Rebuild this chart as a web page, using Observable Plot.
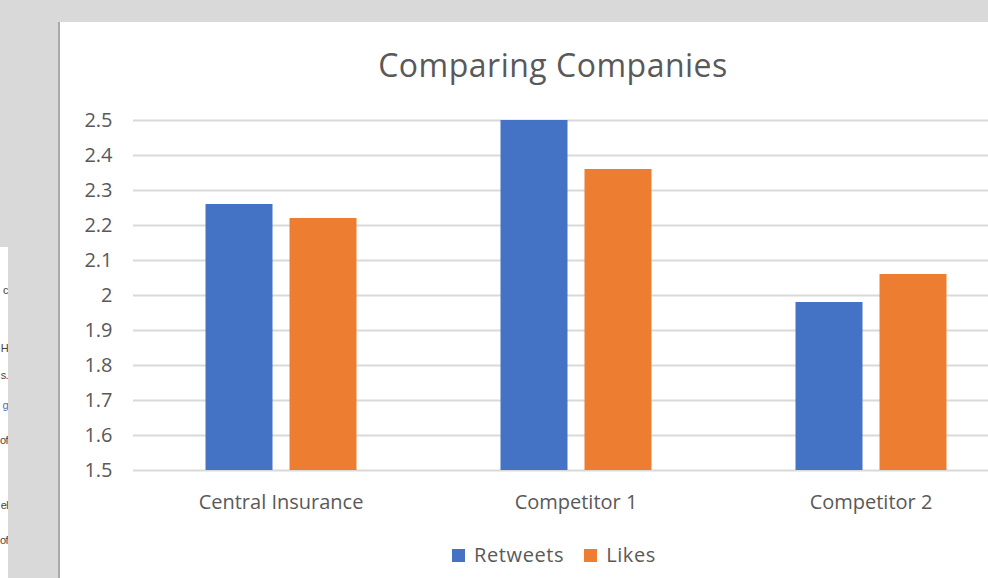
<!DOCTYPE html>
<html>
<head>
<meta charset="utf-8">
<script src="https://cdn.jsdelivr.net/npm/d3@7"></script>
<script src="https://cdn.jsdelivr.net/npm/@observablehq/plot@0.6"></script>
<style>
  html, body { margin:0; padding:0; width:988px; height:578px; overflow:hidden; background:#d9d9d9; }
  body { position:relative; font-family: "Open Sans", sans-serif; }
  #sheet { position:absolute; left:0; top:247px; width:8px; height:331px; background:#fff; overflow:hidden; }
  #sheet div { position:absolute; right:0px; font-family:"Liberation Sans", sans-serif; font-size:11px; letter-spacing:-0.6px; color:#444; white-space:nowrap; line-height:1; }
  #panel { position:absolute; left:58px; top:22px; width:940px; height:560px; background:#fff; border-left:2px solid #a9a9a9; }
  #title { position:absolute; left:253px; width:600px; top:48.5px; text-align:center; font-size:32px; letter-spacing:0.5px; line-height:1; color:#595959; }
  #chart { position:absolute; left:0; top:100px; width:1030px; }
  #chart svg { max-width:none; }
  #legend { position:absolute; left:0; width:1108px; top:545px; display:flex; justify-content:center; gap:20px; font-size:20px; letter-spacing:0.6px; line-height:1; color:#595959; }
  #legend span.sw { display:inline-block; width:13px; height:13px; margin-right:9px; vertical-align:0px; }
</style>
</head>
<body>
<div id="sheet">
  <div style="top:38px">c</div>
  <div style="top:96px">H</div>
  <div style="top:123px">s.</div>
  <div style="top:153px;color:#4a6fb5">g</div>
  <div style="top:188px">of</div>
  <div style="top:253px">el</div>
  <div style="top:288px">of</div>
</div>
<div id="panel"></div>
<div id="title">Comparing Companies</div>
<div id="chart"></div>
<div id="legend"></div>
<script>
const categories = ["Central Insurance", "Competitor 1", "Competitor 2"];
const series = ["Retweets", "Likes"];
const retweets = [2.26, 2.50, 1.98];
const likes = [2.22, 2.36, 2.06];
const yTicks = [1.5, 1.6, 1.7, 1.8, 1.9, 2, 2.1, 2.2, 2.3, 2.4, 2.5];
const colors = ["#4472c4", "#ed7d31"];

const data = categories.flatMap((c, i) => [
  {category: c, series: "Retweets", value: retweets[i]},
  {category: c, series: "Likes", value: likes[i]}
]);

const chart = Plot.plot({
  width: 1030,
  height: 440,
  marginLeft: 132.5,
  marginRight: 12.5,
  marginTop: 20,
  marginBottom: 70,
  style: {fontFamily: "'Open Sans', sans-serif", fontSize: "20px", color: "#595959", background: "transparent", overflow: "visible", maxWidth: "none"},
  fx: {domain: categories, padding: 0, label: null},
  x: {domain: series, paddingInner: 0.2024, paddingOuter: 0.857, axis: null},
  y: {domain: [yTicks[0], yTicks[yTicks.length - 1]], label: null},
  color: {domain: series, range: colors},
  marks: [
    Plot.ruleY(yTicks, {stroke: "#d9d9d9", strokeWidth: 2}),
    Plot.axisY(yTicks, {tickSize: 0, tickPadding: 21, tickFormat: d => String(d), fill: "#595959", fontSize: 20, style: {letterSpacing: "1px"}, label: null}),
    Plot.axisFx({anchor: "bottom", tickSize: 0, tickPadding: 24, fill: "#595959", fontSize: 20, style: {letterSpacing: "0.5px"}, label: null}),
    Plot.barY(data, {fx: "category", x: "series", y1: () => yTicks[0], y2: "value", fill: "series"})
  ]
});
document.getElementById("chart").appendChild(chart);

const legend = document.getElementById("legend");
series.forEach((s, i) => {
  const item = document.createElement("div");
  const sw = document.createElement("span");
  sw.className = "sw";
  sw.style.background = colors[i];
  item.appendChild(sw);
  item.appendChild(document.createTextNode(s));
  legend.appendChild(item);
});
</script>
</body>
</html>
